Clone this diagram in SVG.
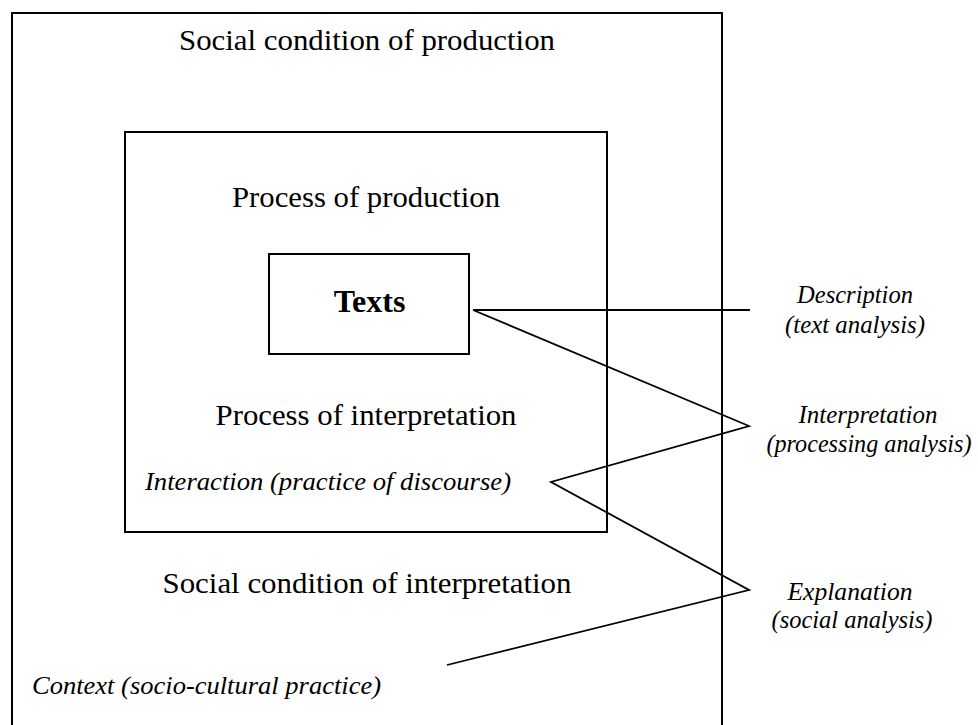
<svg xmlns="http://www.w3.org/2000/svg" width="978" height="725" viewBox="0 0 978 725">
<style>
.box{fill:none;stroke:#000;stroke-width:2}
.ln{fill:none;stroke:#000;stroke-width:1.8;stroke-linejoin:miter}
.main{font-family:"Liberation Serif","Times New Roman",serif;font-size:30px;fill:#000;text-anchor:middle}
.it{font-family:"Liberation Serif","Times New Roman",serif;font-size:25px;font-style:italic;fill:#000}
.r{text-anchor:middle}
.bold{font-family:"Liberation Serif","Times New Roman",serif;font-size:32px;font-weight:bold;fill:#000;text-anchor:middle}
</style>
<rect width="978" height="725" fill="#fff"/>
<g id="outer">
<path class="box" d="M12,730 V13 H722 V730"/>
<text class="main" x="367" y="50" textLength="376" lengthAdjust="spacingAndGlyphs">Social condition of production</text>
<text class="main" x="367" y="593" textLength="409" lengthAdjust="spacingAndGlyphs">Social condition of interpretation</text>
<text class="it" x="32" y="694" textLength="349" lengthAdjust="spacingAndGlyphs">Context (socio-cultural practice)</text>
</g>
<g id="inner">
<rect class="box" x="125" y="132" width="482" height="400"/>
<text class="main" x="366" y="207" textLength="268" lengthAdjust="spacingAndGlyphs">Process of production</text>
<text class="main" x="366" y="425" textLength="301" lengthAdjust="spacingAndGlyphs">Process of interpretation</text>
<text class="it" x="145" y="490" textLength="366" lengthAdjust="spacingAndGlyphs">Interaction (practice of discourse)</text>
</g>
<g id="texts">
<rect class="box" x="269" y="254" width="200" height="100"/>
<text class="bold" x="369.5" y="312">Texts</text>
</g>
<g id="description">
<text class="it r" x="855" y="303" textLength="116" lengthAdjust="spacingAndGlyphs">Description</text>
<text class="it r" x="855" y="333" textLength="140" lengthAdjust="spacingAndGlyphs">(text analysis)</text>
</g>
<g id="interpretation">
<text class="it r" x="868" y="423" textLength="139" lengthAdjust="spacingAndGlyphs">Interpretation</text>
<text class="it r" x="869" y="452" textLength="205" lengthAdjust="spacingAndGlyphs">(processing analysis)</text>
</g>
<g id="explanation">
<text class="it r" x="850" y="600" textLength="125" lengthAdjust="spacingAndGlyphs">Explanation</text>
<text class="it r" x="852" y="628" textLength="161" lengthAdjust="spacingAndGlyphs">(social analysis)</text>
</g>
<g id="connectors">
<line class="ln" x1="473" y1="310" x2="750" y2="310"/>
<polyline class="ln" points="473,310 749,426 551,482 749,590 447,665"/>
</g>
</svg>
